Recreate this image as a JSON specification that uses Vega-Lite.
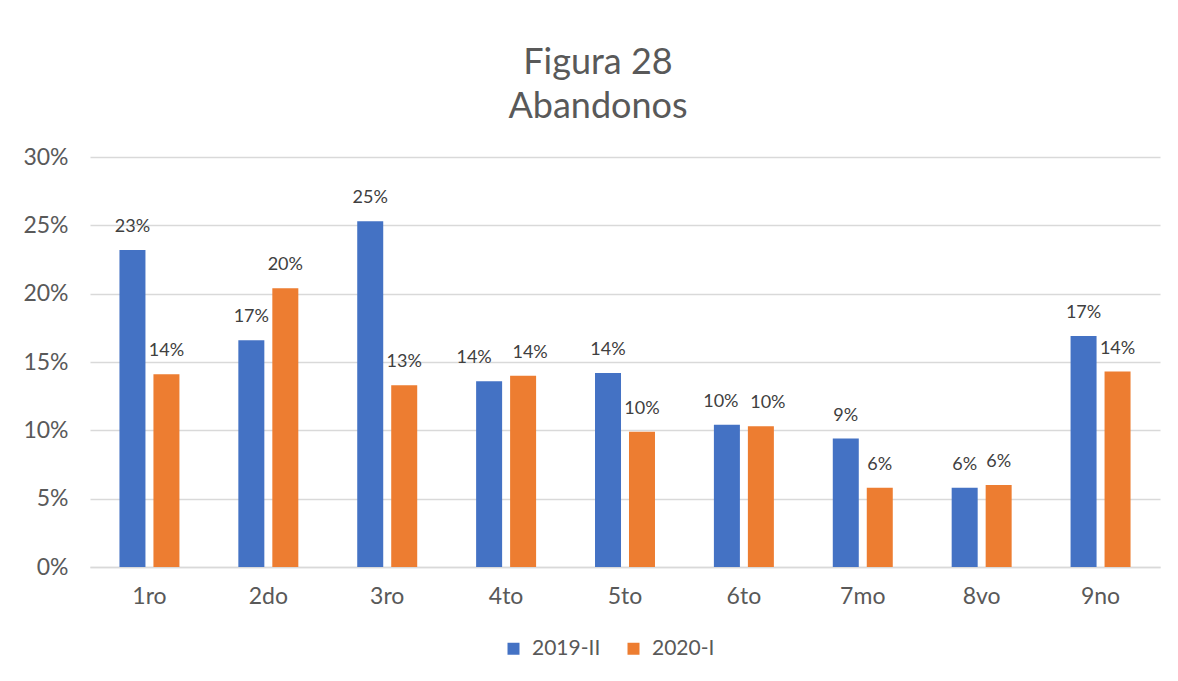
{
  "$schema": "https://vega.github.io/schema/vega-lite/v6.json",
  "width": 1070,
  "height": 410,
  "autosize": {"type": "none"},
  "padding": {"left": 90, "top": 157, "right": 18, "bottom": 114},
  "background": "white",
  "title": {
    "text": ["Figura 28", "Abandonos"],
    "fontSize": 36,
    "font": "Lato",
    "fontWeight": "normal",
    "color": "#595959",
    "lineHeight": 44,
    "baseline": "bottom",
    "anchor": "middle",
    "offset": -16,
    "dx": -27
  },
  "data": {
    "values": [
      {"grado": "1ro", "periodo": "2019-II", "valor": 0.232},
      {"grado": "1ro", "periodo": "2020-I", "valor": 0.141},
      {"grado": "2do", "periodo": "2019-II", "valor": 0.166},
      {"grado": "2do", "periodo": "2020-I", "valor": 0.204},
      {"grado": "3ro", "periodo": "2019-II", "valor": 0.253},
      {"grado": "3ro", "periodo": "2020-I", "valor": 0.133},
      {"grado": "4to", "periodo": "2019-II", "valor": 0.136},
      {"grado": "4to", "periodo": "2020-I", "valor": 0.140},
      {"grado": "5to", "periodo": "2019-II", "valor": 0.142},
      {"grado": "5to", "periodo": "2020-I", "valor": 0.099},
      {"grado": "6to", "periodo": "2019-II", "valor": 0.104},
      {"grado": "6to", "periodo": "2020-I", "valor": 0.103},
      {"grado": "7mo", "periodo": "2019-II", "valor": 0.094},
      {"grado": "7mo", "periodo": "2020-I", "valor": 0.058},
      {"grado": "8vo", "periodo": "2019-II", "valor": 0.058},
      {"grado": "8vo", "periodo": "2020-I", "valor": 0.060},
      {"grado": "9no", "periodo": "2019-II", "valor": 0.169},
      {"grado": "9no", "periodo": "2020-I", "valor": 0.143}
    ]
  },
  "encoding": {
    "x": {
      "field": "grado",
      "type": "nominal",
      "sort": null,
      "scale": {"paddingInner": 0.428, "paddingOuter": 0.214},
      "axis": {
        "title": null,
        "labelAngle": 0,
        "labelFont": "Lato",
        "labelFontSize": 23,
        "labelColor": "#595959",
        "labelPadding": 18,
        "ticks": false,
        "domainColor": "#d9d9d9",
        "domainWidth": 1.5
      }
    },
    "xOffset": {
      "field": "periodo",
      "type": "nominal",
      "scale": {"paddingInner": 0.235, "paddingOuter": 0.118}
    },
    "y": {
      "field": "valor",
      "type": "quantitative",
      "scale": {"domain": [0, 0.3]},
      "axis": {
        "title": null,
        "format": ".0%",
        "values": [0, 0.05, 0.1, 0.15, 0.2, 0.25, 0.3],
        "labelFont": "Lato",
        "labelFontSize": 23,
        "labelColor": "#595959",
        "labelPadding": 22,
        "ticks": false,
        "domain": false,
        "gridColor": "#d9d9d9",
        "gridWidth": 1.5
      }
    },
    "text": {"field": "valor", "type": "quantitative", "format": ".0%"}
  },
  "layer": [
    {
      "mark": {"type": "bar"},
      "encoding": {
        "color": {
          "field": "periodo",
          "type": "nominal",
          "scale": {"domain": ["2019-II", "2020-I"], "range": ["#4472C4", "#ED7D31"]},
          "legend": {
            "title": null,
            "orient": "none",
            "direction": "horizontal",
            "legendX": 413,
            "legendY": 481,
            "symbolType": "square",
            "symbolSize": 144,
            "symbolStrokeWidth": 0,
            "labelFont": "Lato",
            "labelFontSize": 21,
            "labelColor": "#595959",
            "columnPadding": 22,
            "labelOffset": 8
          }
        }
      }
    },
    {
      "transform": [{"filter": "datum.grado !== '4to' && datum.grado !== '6to'"}],
      "mark": {"type": "text", "baseline": "alphabetic", "dy": -18, "font": "Lato", "fontSize": 18, "color": "#404040"}
    },
    {
      "transform": [{"filter": "datum.grado === '4to' && datum.periodo === '2019-II'"}],
      "mark": {"type": "text", "baseline": "alphabetic", "dy": -18, "dx": -15, "font": "Lato", "fontSize": 18, "color": "#404040"}
    },
    {
      "transform": [{"filter": "datum.grado === '6to' && datum.periodo === '2019-II'"}],
      "mark": {"type": "text", "baseline": "alphabetic", "dy": -18, "dx": -6, "font": "Lato", "fontSize": 18, "color": "#404040"}
    },
    {
      "transform": [{"filter": "(datum.grado === '4to' || datum.grado === '6to') && datum.periodo === '2020-I'"}],
      "mark": {"type": "text", "baseline": "alphabetic", "dy": -18, "dx": 7, "font": "Lato", "fontSize": 18, "color": "#404040"}
    }
  ],
  "config": {
    "view": {"stroke": null}
  }
}
